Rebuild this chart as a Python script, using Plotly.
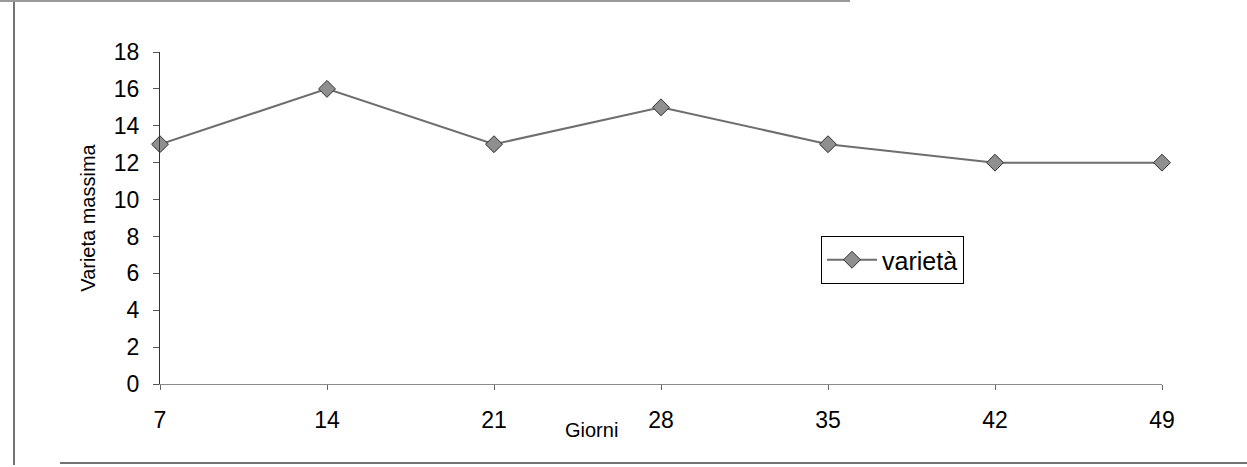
import plotly.graph_objects as go

giorni = [7, 14, 21, 28, 35, 42, 49]
varieta = [13, 16, 13, 15, 13, 12, 12]
series_name = "varietà"
x_title = "Giorni"
y_title = "Varieta massima"
x_ticks = [7, 14, 21, 28, 35, 42, 49]
y_ticks = [0, 2, 4, 6, 8, 10, 12, 14, 16, 18]

W, H = 1247, 467
L, R, T, B = 160, 85, 52, 83
pw, ph = W - L - R, H - T - B

def px(xp):
    return (xp - L) / pw

def py(yp):
    return (H - B - yp) / ph

FONT = "Liberation Sans, Arial, sans-serif"

fig = go.Figure()
fig.add_trace(go.Scatter(
    x=giorni, y=varieta, name=series_name, mode="lines+markers",
    line=dict(color="#6e6e6e", width=2),
    marker=dict(symbol="diamond", size=13, color="#8f8f8f",
                line=dict(color="#2e2e2e", width=1)),
    cliponaxis=False,
))

fig.update_layout(
    width=W, height=H,
    margin=dict(l=L, r=R, t=T, b=B),
    paper_bgcolor="white", plot_bgcolor="white",
    font=dict(family=FONT, color="black"),
    showlegend=True,
    legend=dict(
        x=px(821), y=py(236), xanchor="left", yanchor="top",
        bordercolor="black", borderwidth=1, bgcolor="white",
        font=dict(size=25, family=FONT),
        itemwidth=50, tracegroupgap=0,
    ),
    xaxis=dict(
        range=[7, 49], tickvals=x_ticks, ticktext=[str(v) for v in x_ticks],
        showgrid=False, zeroline=False, showline=True, linecolor="#8a8a8a", linewidth=1,
        ticks="outside", ticklen=5, tickcolor="#666666",
        tickfont=dict(size=23), ticklabelstandoff=10,
    ),
    yaxis=dict(
        range=[0, 18], tickvals=y_ticks,
        showgrid=False, zeroline=False, showline=True, linecolor="#333333", linewidth=1,
        ticks="outside", ticklen=6, tickcolor="#555555",
        tickfont=dict(size=23), ticklabelstandoff=9,
        title=dict(text=y_title, font=dict(size=20), standoff=12),
    ),
    annotations=[
        dict(text=x_title, x=px(591), y=py(430), xref="paper", yref="paper",
             xanchor="center", yanchor="middle", showarrow=False,
             font=dict(size=20, family=FONT)),
    ],
    shapes=[
        dict(type="line", xref="paper", yref="paper", x0=px(14), x1=px(14),
             y0=py(0), y1=py(465), line=dict(color="#444444", width=1.5)),
        dict(type="line", xref="paper", yref="paper", x0=px(0), x1=px(850),
             y0=py(1), y1=py(1), line=dict(color="#9a9a9a", width=2)),
        dict(type="line", xref="paper", yref="paper", x0=px(60), x1=px(1247),
             y0=py(463), y1=py(463), line=dict(color="#444444", width=1.5)),
    ],
)

fig.write_html("out.html")
